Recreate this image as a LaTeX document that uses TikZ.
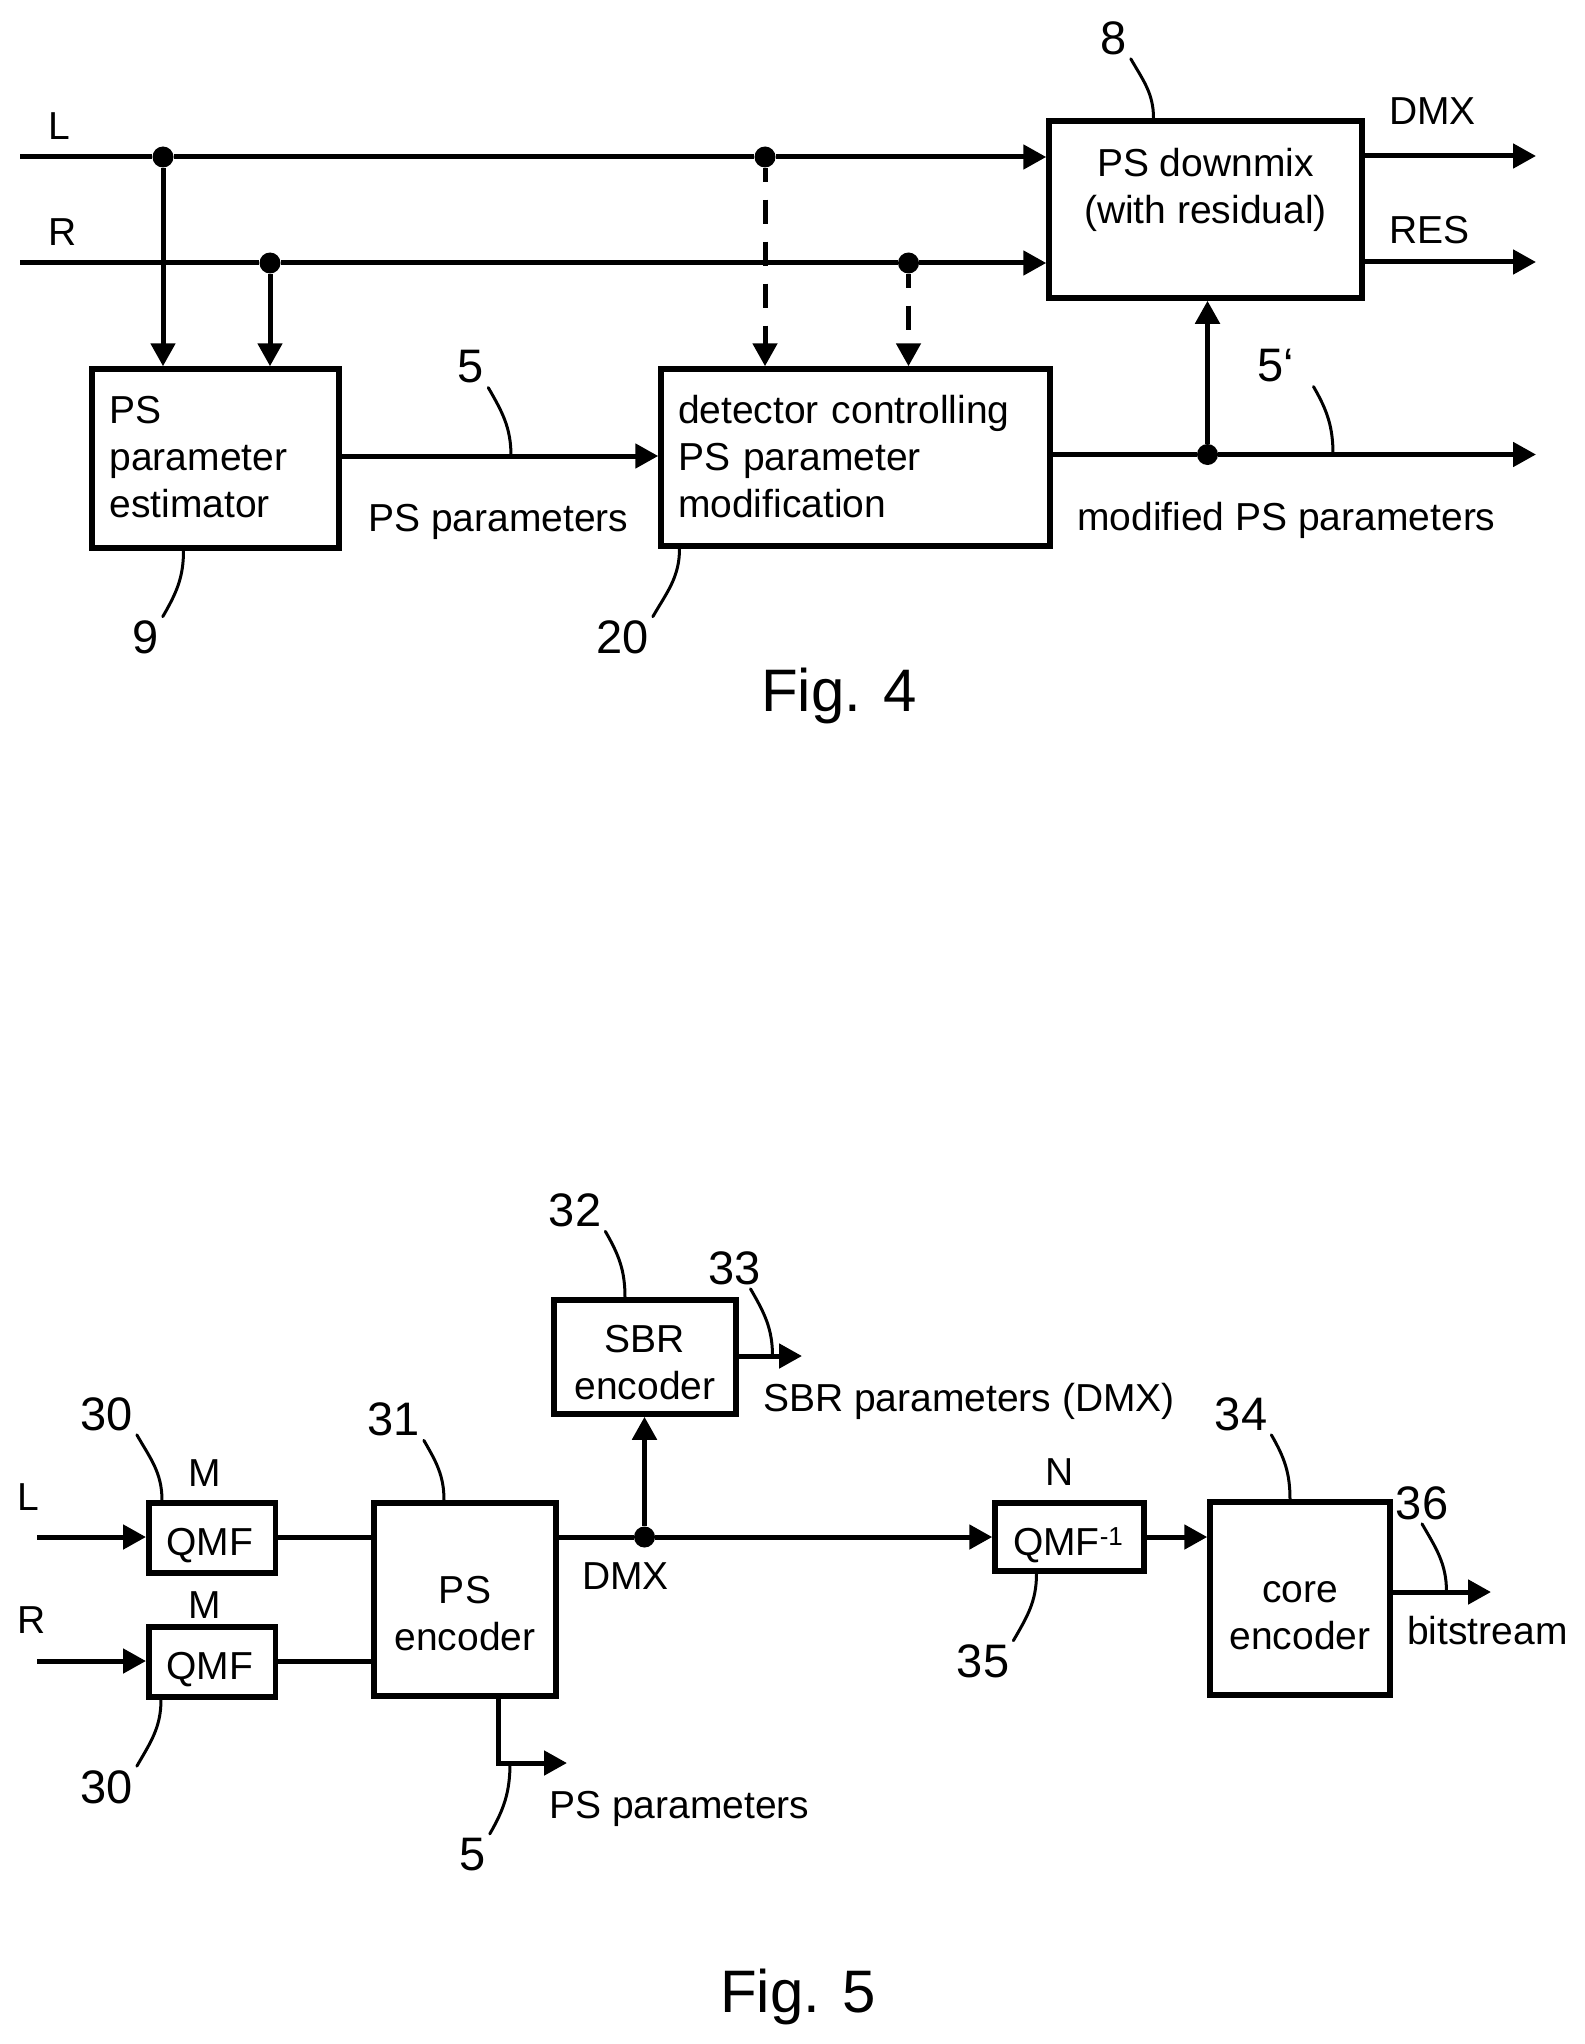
\documentclass[tikz,border=0pt]{standalone}
\usepackage{fontspec}
\setmainfont{Liberation Sans}
\usetikzlibrary{arrows.meta}
\newcommand{\up}[1]{\rule{0pt}{#1pt}}
\newcommand{\dn}[1]{\rule[-#1pt]{0pt}{0pt}}
\begin{document}
\begin{tikzpicture}[x=1pt, y=-1pt,
      every node/.style = {font=\fontsize{39}{47}\selectfont},
      main/.style = {draw, line width=5.5pt, inner sep=0pt, align=center},
      dot/.style = {circle, fill, inner sep=0pt, minimum size=21pt},
      lab/.style = {anchor=base west, inner sep=0pt},
      num/.style = {inner sep=4pt, font=\fontsize{47}{47}\selectfont},
      figlab/.style = {anchor=base west, inner sep=0pt, font=\fontsize{60}{60}\selectfont},
      wire/.style = {line width=5pt},
      sig/.style = {wire, -{Triangle[length=23pt, width=24pt]}},
      dsig/.style = {sig, dash pattern=on 24pt off 18pt, dash phase=10pt},
      leader/.style = {line width=3pt, line cap=round}]
      \useasboundingbox (0,0) rectangle (1584,2044);

      \node[main, minimum width=247pt, minimum height=179pt, text width=212pt, align=left] (estimator) at (215.5,458.5) {PS\\parameter\\estimator\dn{3}};
      \node[main, minimum width=389pt, minimum height=177pt, text width=355pt, align=left] (detector) at (855.5,457.5) {detector controlling\\PS parameter\\modification\dn{3}};
      \node[main, minimum width=313pt, minimum height=177pt] (downmix) at (1205.5,209.5) {PS downmix\\(with residual)\dn{48}};

      \coordinate (lin) at (20,157);
      \coordinate (rin) at (20,263);
      \coordinate (dmxout) at (1536,156);
      \coordinate (resout) at (1536,262);
      \coordinate (modout) at (1536,454.5);
      \coordinate (tap5) at (511,456);
      \coordinate (tap5m) at (1333,454.5);
      \node[dot] (ldot) at (163,157) {};
      \node[dot] (rdot) at (270,263) {};
      \node[dot] (ldash) at (765,157) {};
      \node[dot] (rdash) at (908.5,263) {};
      \node[dot] (odot) at (1207.5,454.5) {};

      \draw[sig] (lin) -- (ldot) -- (ldash) -- (downmix.west |- lin);
      \draw[sig] (rin) -- (rdot) -- (rdash) -- (downmix.west |- rin);
      \draw[sig] (ldot) -- (ldot |- estimator.north);
      \draw[sig] (rdot) -- (rdot |- estimator.north);
      \draw[dsig] (ldash) -- (ldash |- detector.north);
      \draw[dsig] (rdash) -- (rdash |- detector.north);
      \draw[sig] (estimator.east |- tap5) -- (detector.west |- tap5);
      \draw[sig] (detector.east |- odot) -- (odot) -- (modout);
      \draw[sig] (odot) -- (odot |- downmix.south);
      \draw[sig] (downmix.east |- dmxout) -- (dmxout);
      \draw[sig] (downmix.east |- resout) -- (resout);

      \node[lab] (l4) at (48,140) {L};
      \node[lab] (r4) at (48,246) {R};
      \node[lab] (dmx4) at (1389,125) {DMX};
      \node[lab] (res4) at (1389,243.5) {RES};
      \node[lab] (par4) at (368,531) {PS parameters};
      \node[lab] (mod4) at (1077,530) {modified PS parameters};
      \node[figlab] (fig4) at (761,711) {Fig. 4};

      \node[num] (n5) at (471,367) {5};
      \node[num] (n9) at (145.5,637.5) {9};
      \node[num] (n20) at (622.5,637.5) {20};
      \node[num] (n8) at (1113.5,38) {8};
      \node[num] (n5m) at (1276,366) {5‘};

      \draw[leader] (n5.south east) to[out=-60,in=90] (tap5);
      \draw[leader] ([xshift=-32pt]estimator.south) to[out=-90,in=60] (n9.north east);
      \draw[leader] ([xshift=-176pt]detector.south) to[out=-90,in=60] (n20.north east);
      \draw[leader] (n8.south east) to[out=-60,in=90] ([xshift=-52pt]downmix.north);
      \draw[leader] ([xshift=15pt]n5m.south east) to[out=-60,in=90] (tap5m);

      \node[main, minimum width=126.5pt, minimum height=70pt] (qmfl) at (212,1538) {\up{43}QMF\hspace*{5pt}};
      \node[main, minimum width=126.5pt, minimum height=70pt] (qmfr) at (212,1662) {\up{43}QMF\hspace*{5pt}};
      \node[main, minimum width=182pt, minimum height=193pt] (psenc) at (465,1599.5) {\up{55}PS\\encoder};
      \node[main, minimum width=182pt, minimum height=114pt] (sbr) at (645,1357) {\up{39}SBR\\encoder};
      \node[main, minimum width=149pt, minimum height=68pt] (qmfinv) at (1069.5,1537) {\up{44}QMF\raisebox{10pt}{\fontsize{26}{26}\selectfont -1}\hspace*{3pt}};
      \node[main, minimum width=180pt, minimum height=193pt] (core) at (1300,1598.5) {\up{55}core\\encoder};

      \coordinate (lin5) at (37,1537);
      \coordinate (rin5) at (37,1661);
      \coordinate (sbrout) at (802,1356);
      \coordinate (bsout) at (1491,1592);
      \coordinate (pscorner) at (498,1763);
      \coordinate (psout) at (567,1763);
      \coordinate (tap33) at (772.5,1356);
      \coordinate (tap36) at (1446.5,1592);
      \coordinate (tap5b) at (510,1763);
      \node[dot] (dmxdot) at (644.5,1537) {};

      \draw[sig] (lin5) -- (qmfl.west |- lin5);
      \draw[sig] (rin5) -- (qmfr.west |- rin5);
      \draw[wire] (qmfl.east |- lin5) -- (psenc.west |- lin5);
      \draw[wire] (qmfr.east |- rin5) -- (psenc.west |- rin5);
      \draw[sig] (psenc.east |- dmxdot) -- (dmxdot) -- (qmfinv.west |- dmxdot);
      \draw[sig] (dmxdot) -- (dmxdot |- sbr.south);
      \draw[sig] (sbr.east |- sbrout) -- (sbrout);
      \draw[sig] (qmfinv.east) -- (core.west |- qmfinv.east);
      \draw[sig] (core.east |- bsout) -- (bsout);
      \draw[sig] (pscorner |- psenc.south) -- (pscorner) -- (psout);

      \node[lab] (l5) at (17,1510.5) {L};
      \node[lab] (r5) at (17,1633) {R};
      \node[lab] (ml) at (188,1486) {M};
      \node[lab] (mr) at (188,1618) {M};
      \node[lab] (nn) at (1045.5,1485) {N};
      \node[lab] (dmx5) at (582,1589) {DMX};
      \node[lab] (par5) at (549,1818) {PS parameters};
      \node[lab] (sbrpar) at (763,1411) {SBR parameters (DMX)};
      \node[lab] (bits) at (1407,1644.5) {bitstream};
      \node[figlab] (fig5) at (720,2012) {Fig. 5};

      \node[num] (n30t) at (106.5,1414) {30};
      \node[num] (n31) at (393.5,1419.5) {31};
      \node[num] (n32) at (575,1210.5) {32};
      \node[num] (n33) at (734.5,1268) {33};
      \node[num] (n30b) at (106.5,1787) {30};
      \node[num] (n5b) at (472.5,1854.5) {5};
      \node[num] (n34) at (1241,1414) {34};
      \node[num] (n35) at (983,1661.5) {35};
      \node[num] (n36) at (1422,1503) {36};

      \draw[leader] (n30t.south east) to[out=-60,in=90] ([xshift=-50pt]qmfl.north);
      \draw[leader] (n31.south east) to[out=-60,in=90] ([xshift=-21pt]psenc.north);
      \draw[leader] (n32.south east) to[out=-60,in=90] ([xshift=-20pt]sbr.north);
      \draw[leader] ([xshift=16pt]n33.south) to[out=-60,in=90] (tap33);
      \draw[leader] ([xshift=-51pt]qmfr.south) to[out=-90,in=60] (n30b.north east);
      \draw[leader] (tap5b) to[out=-90,in=60] (n5b.north east);
      \draw[leader] (n34.south east) to[out=-60,in=90] ([xshift=-10pt]core.north);
      \draw[leader] ([xshift=-33pt]qmfinv.south) to[out=-90,in=60] (n35.north east);
      \draw[leader] (n36.south) to[out=-60,in=90] (tap36);
\end{tikzpicture}
\end{document}
